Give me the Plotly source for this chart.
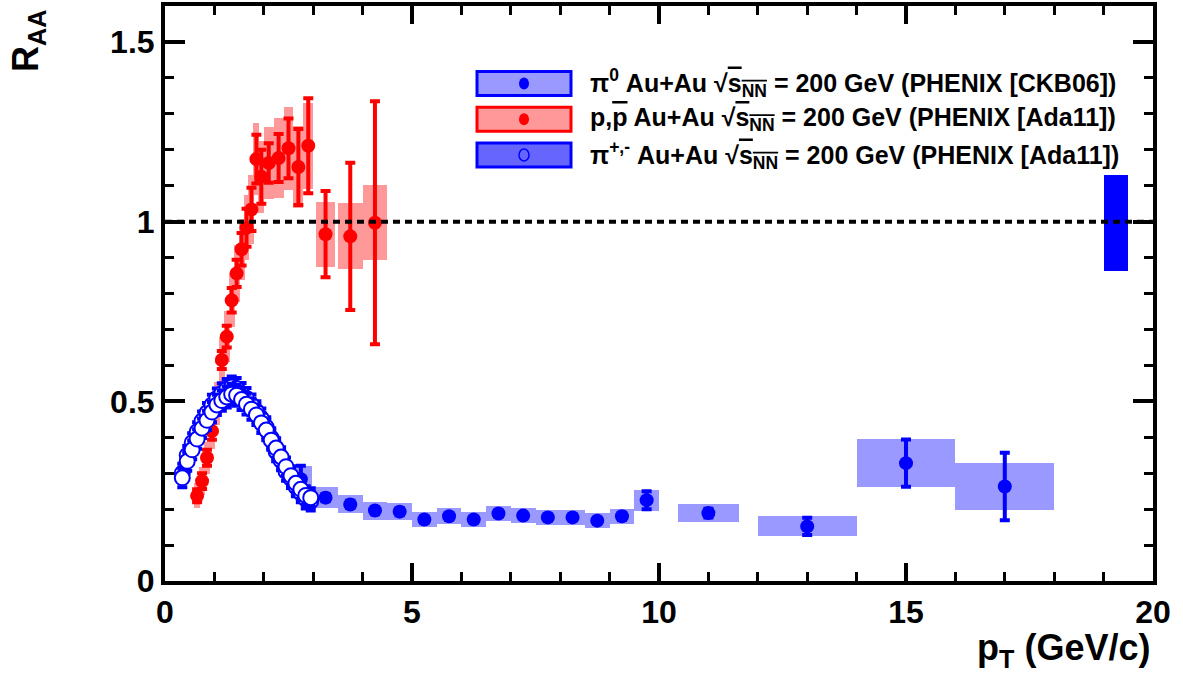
import plotly.graph_objects as go

# ---------------- data ----------------
# pi0 Au+Au (PHENIX [CKB06])
pi0_pt   = [2.75, 3.25, 3.75, 4.25, 4.75, 5.25, 5.75, 6.25, 6.75, 7.25, 7.75, 8.25, 8.75, 9.25, 9.75, 11.0, 13.0, 15.0, 17.0]
pi0_raa  = [0.283, 0.232, 0.213, 0.196, 0.193, 0.171, 0.180, 0.171, 0.188, 0.182, 0.177, 0.177, 0.168, 0.180, 0.225, 0.189, 0.152, 0.328, 0.263]
pi0_stat = [0.038, 0.010, 0.010, 0.010, 0.010, 0.008, 0.008, 0.008, 0.008, 0.008, 0.008, 0.008, 0.008, 0.010, 0.025, 0.012, 0.024, 0.066, 0.094]
pi0_sys  = [0.037, 0.029, 0.025, 0.025, 0.024, 0.021, 0.022, 0.022, 0.021, 0.021, 0.021, 0.021, 0.021, 0.021, 0.029, 0.026, 0.028, 0.066, 0.066]
pi0_boxw = [0.45, 0.5, 0.5, 0.5, 0.5, 0.5, 0.5, 0.5, 0.5, 0.5, 0.5, 0.5, 0.5, 0.5, 0.5, 1.25, 2.0, 2.0, 2.0]

# p, pbar Au+Au (PHENIX [Ada11])
p_pt   = [0.65, 0.75, 0.85, 0.95, 1.05, 1.15, 1.25, 1.35, 1.45, 1.55, 1.65, 1.75, 1.85, 1.95, 2.1, 2.3, 2.5, 2.7, 2.9, 3.25, 3.75, 4.25]
p_raa  = [0.237, 0.278, 0.343, 0.417, 0.494, 0.615, 0.680, 0.781, 0.856, 0.923, 0.983, 1.034, 1.174, 1.125, 1.163, 1.177, 1.204, 1.152, 1.211, 0.965, 0.959, 0.997]
p_stat = [0.018, 0.022, 0.022, 0.024, 0.024, 0.025, 0.030, 0.034, 0.038, 0.045, 0.053, 0.060, 0.068, 0.075, 0.055, 0.067, 0.083, 0.106, 0.132, 0.120, 0.205, 0.338]
p_sys  = [0.035, 0.040, 0.045, 0.050, 0.060, 0.065, 0.070, 0.075, 0.080, 0.085, 0.090, 0.095, 0.100, 0.100, 0.100, 0.110, 0.115, 0.115, 0.120, 0.090, 0.092, 0.105]
p_boxw = [0.12, 0.12, 0.12, 0.12, 0.12, 0.12, 0.12, 0.12, 0.12, 0.12, 0.12, 0.12, 0.12, 0.12, 0.2, 0.2, 0.2, 0.2, 0.2, 0.37, 0.5, 0.5]

# pi+,- Au+Au (PHENIX [Ada11])
pipm_pt    = [0.35, 0.45, 0.55, 0.65, 0.75, 0.85, 0.95, 1.05, 1.15, 1.25, 1.35, 1.45, 1.55, 1.65, 1.75, 1.85, 1.95, 2.05, 2.15, 2.25, 2.35, 2.45, 2.55, 2.65, 2.75, 2.85, 2.95]
pip_raa    = [0.287, 0.333, 0.365, 0.395, 0.425, 0.447, 0.470, 0.490, 0.502, 0.512, 0.520, 0.517, 0.505, 0.492, 0.478, 0.462, 0.440, 0.420, 0.392, 0.370, 0.345, 0.318, 0.293, 0.272, 0.255, 0.238, 0.232]
pim_raa    = [0.300, 0.350, 0.385, 0.415, 0.445, 0.468, 0.490, 0.508, 0.522, 0.533, 0.540, 0.536, 0.522, 0.508, 0.490, 0.472, 0.452, 0.428, 0.398, 0.360, 0.335, 0.305, 0.285, 0.262, 0.245, 0.228, 0.222]
pipm_err   = [0.026, 0.026, 0.026, 0.027, 0.027, 0.027, 0.028, 0.028, 0.028, 0.029, 0.029, 0.029, 0.029, 0.029, 0.029, 0.028, 0.028, 0.028, 0.027, 0.027, 0.027, 0.026, 0.026, 0.026, 0.026, 0.026, 0.026]

# global normalisation uncertainty
norm_pt, norm_center, norm_err, norm_w = [19.25], [0.997], [0.134], [0.5]

x_ticks = [0, 5, 10, 15, 20]
y_ticks = [0, 0.5, 1, 1.5]
y_ticktext = ["0", "0.5", "1", "1.5"]

BLUE, RED = "#0000ff", "#ff0000"
LBLUE, LRED, MBLUE = "#9999ff", "#ff9999", "#6666ff"

fig = go.Figure()

def boxes(x, c, s, w, color):
    return go.Bar(x=x, y=[2 * v for v in s], base=[a - b for a, b in zip(c, s)],
                  width=w, marker=dict(color=color, line=dict(width=0)),
                  showlegend=False, hoverinfo="skip")

def points(x, y, e, color, fill=None, size=14):
    return go.Scatter(x=x, y=y, mode="markers",
                      error_y=dict(type="data", array=e, color=color, thickness=4, width=5),
                      marker=dict(symbol="circle", size=size, color=fill if fill else color,
                                  line=dict(color=color, width=2 if fill else 0)),
                      showlegend=False)

# protons
fig.add_trace(boxes(p_pt, p_raa, p_sys, p_boxw, LRED))
fig.add_trace(points(p_pt, p_raa, p_stat, RED))
# pi0
fig.add_trace(boxes(pi0_pt, pi0_raa, pi0_sys, pi0_boxw, LBLUE))
fig.add_trace(points(pi0_pt, pi0_raa, pi0_stat, BLUE))
# pi+-
fig.add_trace(points(pipm_pt, pim_raa, pipm_err, BLUE, fill="white", size=15))
fig.add_trace(points(pipm_pt, pip_raa, pipm_err, BLUE, fill="white", size=15))
# normalisation box
fig.add_trace(boxes(norm_pt, norm_center, norm_err, norm_w, BLUE))

# ---------------- layout ----------------
L, R, T, B = 165, 1153, 2, 581
W, H = 1183, 681
def px(xp): return (xp - L) / (R - L)
def py(yp): return (B - yp) / (B - T)

FONT = "Liberation Sans"
axis_common = dict(showline=True, linewidth=4, linecolor="black", mirror="allticks",
                   ticks="inside", tickwidth=4, tickcolor="black", showgrid=False, zeroline=False,
                   tickfont=dict(family=FONT, size=32, color="black", weight="bold"))

fig.update_layout(
    width=W, height=H, margin=dict(l=L, r=W - R, t=T, b=H - B),
    paper_bgcolor="white", plot_bgcolor="white", barmode="overlay", bargap=0,
    showlegend=False,
    xaxis=dict(range=[0, 20], tickvals=x_ticks, ticktext=[str(v) for v in x_ticks], ticklen=18,
               minor=dict(dtick=1, ticklen=9, tickwidth=3, ticks="inside", tickcolor="black"),
               **axis_common),
    yaxis=dict(range=[0, 1.6], tickvals=y_ticks, ticktext=y_ticktext, ticklen=20,
               minor=dict(dtick=0.1, ticklen=9, tickwidth=3, ticks="inside", tickcolor="black"),
               **axis_common),
)

# dashed line at R_AA = 1
fig.add_shape(type="line", xref="paper", yref="y", x0=0, x1=1, y0=1, y1=1,
              line=dict(color="black", width=4, dash="7px,5px"))

# axis titles
fig.add_annotation(text="<b>p<sub>T</sub> (GeV/c)</b>", xref="paper", yref="paper",
                   x=px(1152), y=py(650), xanchor="right", yanchor="middle", showarrow=False,
                   font=dict(family=FONT, size=36, color="black"))
fig.add_annotation(text="<b>R<sub>AA</sub></b>", xref="paper", yref="paper", textangle=-90,
                   x=px(28), y=py(4), xanchor="center", yanchor="top", showarrow=False,
                   font=dict(family=FONT, size=36, color="black"))

# legend (drawn manually, ROOT style)
OL = "<span style='text-decoration:overline'>"
entries = [
    ("π<sup>0</sup> Au+Au √" + OL + "s<sub>NN</sub></span> = 200 GeV (PHENIX [CKB06])", LBLUE, BLUE, BLUE),
    ("p," + OL + "p</span> Au+Au √" + OL + "s<sub>NN</sub></span> = 200 GeV (PHENIX [Ada11])", LRED, RED, RED),
    ("π<sup>+,-</sup> Au+Au √" + OL + "s<sub>NN</sub></span> = 200 GeV (PHENIX [Ada11])", MBLUE, BLUE, "open"),
]
rows = [80, 116, 152]
for (txt, fillc, edge, mk), yc in zip(entries, rows):
    fig.add_shape(type="rect", xref="paper", yref="paper", x0=px(477), x1=px(571),
                  y0=py(yc + 12), y1=py(yc - 12), fillcolor=fillc, line=dict(color=edge, width=3))
    if mk == "open":
        fig.add_shape(type="circle", xref="paper", yref="paper", xsizemode="pixel", ysizemode="pixel",
                      xanchor=px(524), yanchor=py(yc), x0=-5, x1=5, y0=-6, y1=6,
                      fillcolor="rgba(0,0,0,0)", line=dict(color=BLUE, width=1.5))
    else:
        fig.add_shape(type="circle", xref="paper", yref="paper", xsizemode="pixel", ysizemode="pixel",
                      xanchor=px(524), yanchor=py(yc), x0=-5, x1=5, y0=-6, y1=6,
                      fillcolor=mk, line=dict(color=mk, width=0))
    fig.add_annotation(text="<b>" + txt + "</b>", xref="paper", yref="paper",
                       x=px(588), y=py(yc), xanchor="left", yanchor="middle", showarrow=False,
                       font=dict(family=FONT, size=25, color="black"))

fig.write_html("out.html")
